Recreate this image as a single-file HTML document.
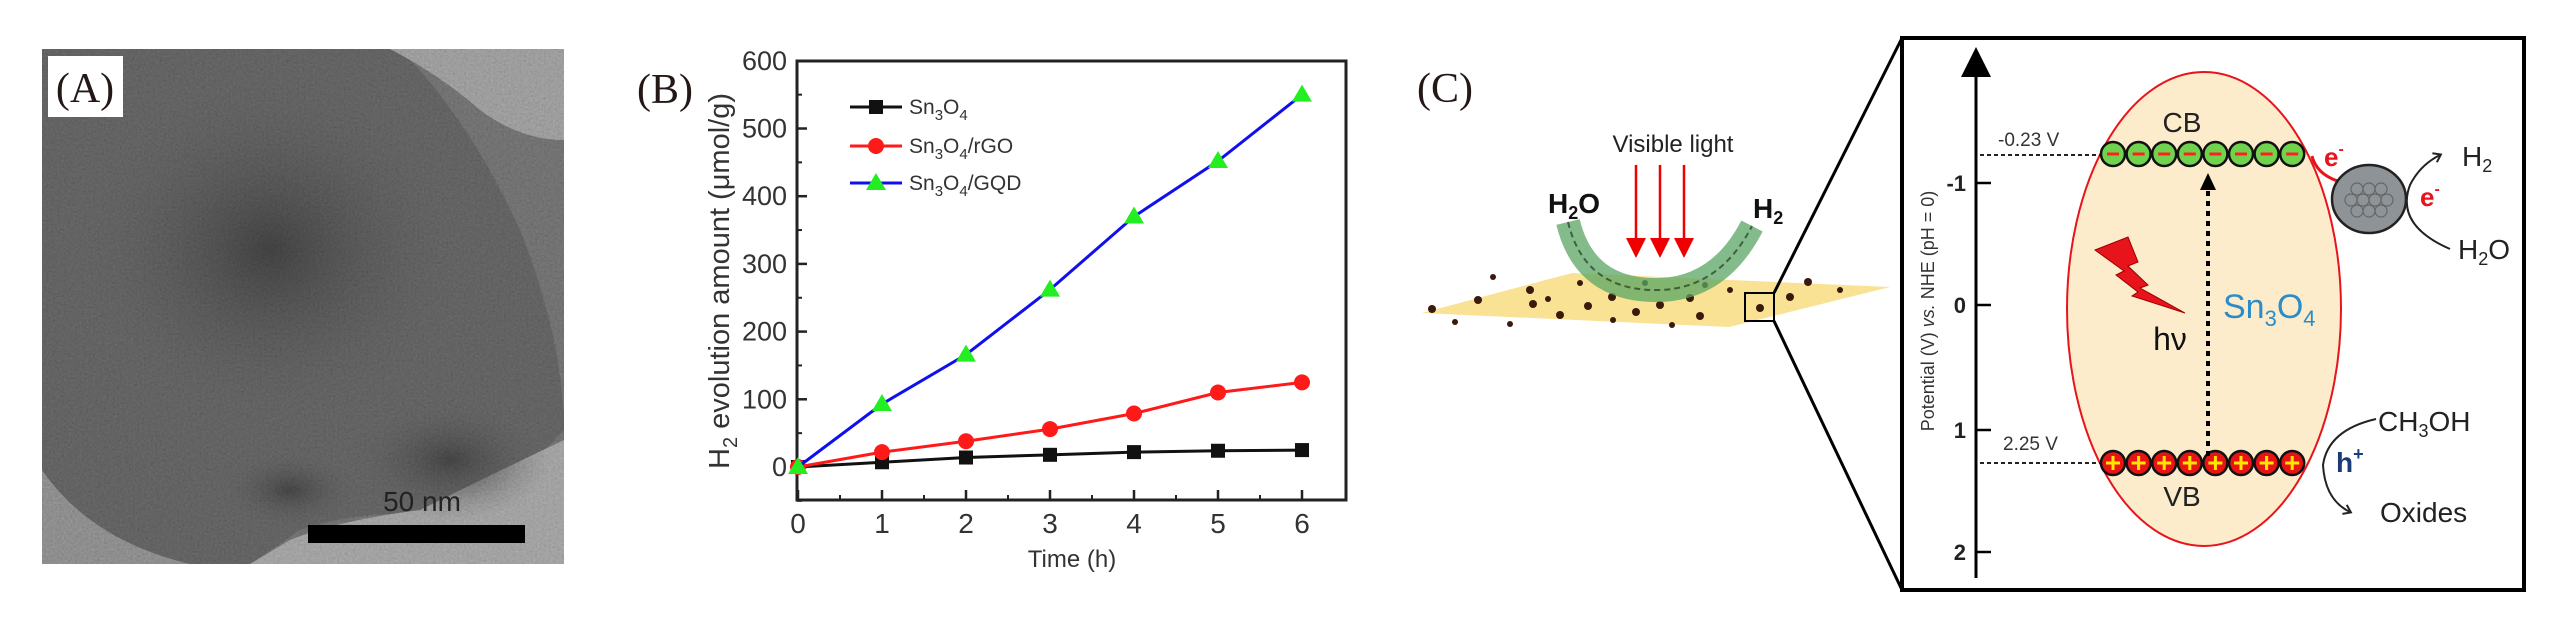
<!DOCTYPE html>
<html><head><meta charset="utf-8"><style>
html,body{margin:0;padding:0;background:#fff;width:2567px;height:630px;overflow:hidden}
svg{display:block}
text{font-family:"Liberation Sans",Arial,sans-serif}
.serif{font-family:"Liberation Serif","Times New Roman",serif}
</style></head><body>
<svg id="fig" width="2567" height="630" viewBox="0 0 2567 630" xmlns="http://www.w3.org/2000/svg">
<defs>
<filter id="noise" x="0" y="0" width="100%" height="100%">
<feTurbulence type="fractalNoise" baseFrequency="0.45" numOctaves="2" seed="3"/>
<feColorMatrix type="matrix" values="0.33 0.33 0.33 0 0  0.33 0.33 0.33 0 0  0.33 0.33 0.33 0 0  0 0 0 0 1"/>
</filter>
<radialGradient id="darkblob" cx="0.5" cy="0.5" r="0.5"><stop offset="0" stop-color="#383838"/><stop offset="1" stop-color="#555" stop-opacity="0"/></radialGradient>
<radialGradient id="darkblob2" cx="0.5" cy="0.5" r="0.5"><stop offset="0" stop-color="#3a3a3a"/><stop offset="1" stop-color="#555" stop-opacity="0"/></radialGradient>
<marker id="arrK" markerWidth="10" markerHeight="10" refX="5" refY="5" orient="auto"><path d="M0,0 L10,5 L0,10 z" fill="#000"/></marker>
<marker id="arrR" markerWidth="8" markerHeight="8" refX="4" refY="4" orient="auto"><path d="M0,0 L8,4 L0,8 z" fill="#e00"/></marker>
<marker id="chev" markerWidth="12" markerHeight="12" refX="8" refY="6" orient="auto" markerUnits="userSpaceOnUse"><path d="M2,1 L9,6 L2,11" fill="none" stroke="#222" stroke-width="2"/></marker>
</defs>

<!-- Panel A: TEM image -->
<g>
<rect x="42" y="49" width="522" height="515" fill="#626262"/>
<path d="M42,49 H400 Q470,120 520,230 Q560,330 564,420 L564,430 Q500,500 420,515 Q360,510 300,530 L250,564 H42 Z" fill="#555"/>
<path d="M390,49 H564 V140 Q520,140 480,110 Q440,75 390,49Z" fill="#8a8a8a"/>
<path d="M564,440 Q480,480 420,510 Q340,520 290,540 L250,564 H564 Z" fill="#909090"/>
<path d="M42,470 Q90,540 190,564 H42Z" fill="#7a7a7a"/>
<ellipse cx="270" cy="250" rx="200" ry="180" fill="url(#darkblob)"/>
<ellipse cx="450" cy="460" rx="100" ry="60" fill="url(#darkblob2)"/>
<ellipse cx="290" cy="490" rx="70" ry="40" fill="url(#darkblob2)"/>
<rect x="42" y="49" width="522" height="515" filter="url(#noise)" opacity="0.35" style="mix-blend-mode:overlay"/>
<rect x="48" y="56" width="75" height="61" fill="#fff"/>
<text x="85" y="102" class="serif" font-size="42" text-anchor="middle" fill="#231815">(A)</text>
<rect x="308" y="525" width="217" height="18" fill="#000"/>
<text x="422" y="511" font-size="28" text-anchor="middle" fill="#222">50 nm</text>
</g>

<!-- Panel B -->
<text x="665" y="103" class="serif" font-size="42" text-anchor="middle" fill="#231815">(B)</text>
<g id="chart"></g>

<!-- Panel C -->
<g>
<text x="1445" y="102" class="serif" font-size="42" text-anchor="middle" fill="#231815">(C)</text>
<polygon points="1422,313 1572,273 1890,287 1729,327" fill="#f8df88" opacity="0.9"/>
<g fill="#3a1a0c">
<circle cx="1432" cy="309" r="4"/><circle cx="1478" cy="300" r="4"/><circle cx="1493" cy="277" r="3"/><circle cx="1530" cy="290" r="4"/><circle cx="1533" cy="304" r="4"/><circle cx="1548" cy="299" r="3"/><circle cx="1560" cy="315" r="4"/><circle cx="1588" cy="306" r="4"/><circle cx="1580" cy="283" r="3"/><circle cx="1612" cy="297" r="4"/><circle cx="1613" cy="320" r="3"/><circle cx="1636" cy="312" r="4"/><circle cx="1645" cy="283" r="3"/><circle cx="1660" cy="305" r="4"/><circle cx="1672" cy="325" r="3"/><circle cx="1690" cy="298" r="4"/><circle cx="1700" cy="316" r="4"/><circle cx="1705" cy="285" r="3"/><circle cx="1730" cy="290" r="3"/><circle cx="1760" cy="308" r="4"/><circle cx="1790" cy="297" r="4"/><circle cx="1808" cy="282" r="4"/><circle cx="1840" cy="290" r="3"/><circle cx="1455" cy="322" r="3"/><circle cx="1510" cy="324" r="3"/>
</g>
<path d="M1568,222 Q1585,292 1660,290 Q1720,288 1752,226" fill="none" stroke="#5aa563" stroke-width="24" opacity="0.75"/>
<path d="M1568,222 Q1585,292 1660,290 Q1720,288 1752,226" fill="none" stroke="#2d4a2d" stroke-width="2" stroke-dasharray="6,4" opacity="0.8"/>
<g stroke="#e00" stroke-width="2.5">
<line x1="1636" y1="165" x2="1636" y2="248" marker-end="url(#arrR)"/><line x1="1660" y1="165" x2="1660" y2="248" marker-end="url(#arrR)"/><line x1="1684" y1="165" x2="1684" y2="248" marker-end="url(#arrR)"/>
</g>
<text x="1673" y="152" font-size="24" text-anchor="middle" fill="#222">Visible light</text>
<text x="1548" y="213" font-size="28" font-weight="bold" fill="#111">H<tspan font-size="18" dy="6">2</tspan><tspan dy="-6">O</tspan></text>
<text x="1753" y="218" font-size="28" font-weight="bold" fill="#111">H<tspan font-size="18" dy="6">2</tspan></text>
<rect x="1745" y="293" width="29" height="28" fill="none" stroke="#000" stroke-width="2"/>
<line x1="1774" y1="293" x2="1902" y2="38" stroke="#000" stroke-width="3"/>
<line x1="1774" y1="321" x2="1902" y2="590" stroke="#000" stroke-width="3"/>
<rect x="1902" y="38" width="622" height="552" fill="#fff" stroke="#000" stroke-width="4"/>
<line x1="1976" y1="578" x2="1976" y2="62" stroke="#000" stroke-width="3" marker-end="url(#arrK)"/>
<g stroke="#000" stroke-width="2.5"><line x1="1976" y1="183" x2="1991" y2="183"/><line x1="1976" y1="305" x2="1991" y2="305"/><line x1="1976" y1="430" x2="1991" y2="430"/><line x1="1976" y1="552" x2="1991" y2="552"/></g>
<g font-size="22" font-weight="bold" text-anchor="end" fill="#222">
<text x="1966" y="191">-1</text><text x="1966" y="313">0</text><text x="1966" y="438">1</text><text x="1966" y="560">2</text></g>
<text transform="translate(1934,311) rotate(-90)" font-size="18" text-anchor="middle" fill="#333">Potential (V) <tspan font-style="italic">vs.</tspan> NHE (pH = 0)</text>
<ellipse cx="2204" cy="309" rx="137" ry="237" fill="#fdeccb" stroke="#e8141c" stroke-width="2"/>
<line x1="1980" y1="155" x2="2100" y2="155" stroke="#222" stroke-width="2" stroke-dasharray="4,3"/>
<line x1="1980" y1="463" x2="2100" y2="463" stroke="#222" stroke-width="2" stroke-dasharray="4,3"/>
<text x="1998" y="146" font-size="19" fill="#333">-0.23 V</text>
<text x="2003" y="450" font-size="19" fill="#333">2.25 V</text>
<text x="2182" y="132" font-size="28" text-anchor="middle" fill="#222">CB</text>
<text x="2182" y="506" font-size="28" text-anchor="middle" fill="#222">VB</text>
<g id="cbdots"></g>
<g id="vbdots"></g>
<line x1="2208" y1="456" x2="2208" y2="190" stroke="#000" stroke-width="4" stroke-dasharray="5,5"/>
<polygon points="2208,173 2200,190 2216,190" fill="#000"/>
<polygon points="2095,250 2128,237 2138,262 2128,266 2148,285 2140,288 2185,313 2132,296 2138,292 2116,275 2124,271" fill="#e8141c" stroke="#900" stroke-width="1"/>
<text x="2170" y="350" font-size="32" text-anchor="middle" fill="#111">hν</text>
<text x="2223" y="318" font-size="34" fill="#2a8cc8">Sn<tspan font-size="22" dy="8">3</tspan><tspan dy="-8">O</tspan><tspan font-size="22" dy="8">4</tspan></text>
<text x="2324" y="166" font-size="26" font-weight="bold" fill="#e8141c">e<tspan font-size="16" dy="-12">-</tspan></text>
<path d="M2312,156 Q2318,180 2355,185" fill="none" stroke="#e8141c" stroke-width="3" marker-end="url(#arrR)"/>
<ellipse cx="2369" cy="199" rx="37" ry="34" fill="#8d9397" stroke="#222" stroke-width="2.5"/>
<g fill="none" stroke="#666" stroke-width="1.2"><circle cx="2357" cy="189" r="6"/><circle cx="2369" cy="189" r="6"/><circle cx="2381" cy="189" r="6"/><circle cx="2351" cy="200" r="6"/><circle cx="2363" cy="200" r="6"/><circle cx="2375" cy="200" r="6"/><circle cx="2387" cy="200" r="6"/><circle cx="2357" cy="211" r="6"/><circle cx="2369" cy="211" r="6"/><circle cx="2381" cy="211" r="6"/></g>
<path d="M2450,249 Q2395,225 2410,185 Q2420,165 2440,155" fill="none" stroke="#222" stroke-width="2" marker-end="url(#chev)"/>
<text x="2462" y="166" font-size="28" fill="#222">H<tspan font-size="18" dy="6">2</tspan></text>
<text x="2420" y="206" font-size="26" font-weight="bold" fill="#e8141c">e<tspan font-size="16" dy="-12">-</tspan></text>
<text x="2458" y="259" font-size="28" fill="#222">H<tspan font-size="18" dy="6">2</tspan><tspan dy="-6">O</tspan></text>
<path d="M2376,419 Q2328,430 2323,465 Q2325,500 2350,512" fill="none" stroke="#222" stroke-width="2" marker-end="url(#chev)"/>
<text x="2378" y="431" font-size="28" fill="#222">CH<tspan font-size="18" dy="6">3</tspan><tspan dy="-6">OH</tspan></text>
<text x="2336" y="472" font-size="28" font-weight="bold" fill="#1a3a7a">h<tspan font-size="18" dy="-12">+</tspan></text>
<text x="2380" y="522" font-size="28" fill="#222">Oxides</text>
</g>

<script>
const timeH = [0,1,2,3,4,5,6];
const sn3o4 = [0,7,14,18,22,24,25];
const sn3o4rGO = [0,22,38,56,79,110,125];
const sn3o4GQD = [0,93,166,262,370,452,550];
const xTicks = [0,1,2,3,4,5,6];
const yTicks = [0,100,200,300,400,500,600];

const NS='http://www.w3.org/2000/svg';
const g=document.getElementById('chart');
const X0=798, XS=84, Y0=467, YS=0.677;
function xs(v){return X0+v*XS;}
function ys(v){return Y0-v*YS;}
function mk(tag,attrs,parent){const e=document.createElementNS(NS,tag);for(const k in attrs)e.setAttribute(k,attrs[k]);(parent||g).appendChild(e);return e;}
// parts: [text, shift] where shift = 0 normal, 1 subscript
function rich(textEl,parts,subSize){
  let cur=0;
  parts.forEach(p=>{
    const ts=document.createElementNS(NS,'tspan');
    const target=p[1]?1:0;
    const d=(target-cur)*(subSize*0.4);
    if(d) ts.setAttribute('dy',d);
    if(p[1]) ts.setAttribute('font-size',subSize);
    ts.textContent=p[0];
    textEl.appendChild(ts);
    cur=target;
  });
}

const frame=mk('rect',{x:797,y:61,width:549,height:439,fill:'none',stroke:'#222','stroke-width':3});



xTicks.forEach(t=>{
  mk('line',{x1:xs(t),y1:500,x2:xs(t),y2:490,stroke:'#222','stroke-width':2.5});
  if(t<6) mk('line',{x1:xs(t+0.5),y1:500,x2:xs(t+0.5),y2:495,stroke:'#222','stroke-width':2});
  const tl=mk('text',{x:xs(t),y:533,'font-size':28,'text-anchor':'middle',fill:'#333'});
  tl.textContent=t;
  
  
});
yTicks.forEach(t=>{
  mk('line',{x1:797,y1:ys(t),x2:807,y2:ys(t),stroke:'#222','stroke-width':2.5});
  mk('line',{x1:797,y1:ys(t-50),x2:802,y2:ys(t-50),stroke:'#222','stroke-width':2});
  const tl=mk('text',{x:787,y:ys(t)+9,'font-size':27,'text-anchor':'end',fill:'#333'});
  tl.textContent=t;
  
  
});
const xt=mk('text',{x:1072,y:567,'font-size':24,'text-anchor':'middle',fill:'#333'});
xt.textContent='Time (h)';


const yt=mk('text',{transform:'translate(729,281) rotate(-90)','font-size':29,'text-anchor':'middle',fill:'#333'});
rich(yt,[['H',0],['2',1],[' evolution amount (μmol/g)',0]],20);



function marker(type,x,y,color,parent){
  if(type==='sq') return mk('rect',{x:x-7,y:y-7,width:14,height:14,fill:color},parent);
  if(type==='ci') return mk('circle',{cx:x,cy:y,r:8,fill:color},parent);
  return mk('polygon',{points:`${x},${y-10} ${x-10},${y+7} ${x+10},${y+7}`,fill:color},parent);
}
const series=[
  {vals:sn3o4,line:'#111',mc:'#111',m:'sq',name:'series-sn3o4'},
  {vals:sn3o4rGO,line:'#ff1a1a',mc:'#ff1a1a',m:'ci',name:'series-sn3o4-rgo'},
  {vals:sn3o4GQD,line:'#1010ee',mc:'#22ee22',m:'tr',name:'series-sn3o4-gqd'}
];
series.forEach(s=>{
  const sg=mk('g',{});
  
  
  mk('polyline',{points:timeH.map((t,i)=>xs(t)+','+ys(s.vals[i])).join(' '),fill:'none',stroke:s.line,'stroke-width':3},sg);
  timeH.forEach((t,i)=>{
    const p=marker(s.m,xs(t),ys(s.vals[i]),s.mc,sg);
    
    
  });
});
const legendSuffix=['','/rGO','/GQD'];
const legY=[107,146,183];
series.forEach((s,i)=>{
  const lg=mk('g',{});
  
  
  mk('line',{x1:850,y1:legY[i],x2:902,y2:legY[i],stroke:s.line,'stroke-width':3},lg);
  marker(s.m,876,legY[i],s.mc,lg);
  const t=mk('text',{x:909,y:legY[i]+7,'font-size':21,fill:'#333'},lg);
  const parts=[['Sn',0],['3',1],['O',0],['4',1]];
  if(legendSuffix[i]) parts.push([legendSuffix[i],0]);
  rich(t,parts,15);
});

function dots(id,y,fill,sym,symColor){
  const p=document.getElementById(id);
  for(let i=0;i<8;i++){
    const cx=2113+i*25.6;
    mk('circle',{cx:cx,cy:y,r:12,fill:fill,stroke:'#111','stroke-width':2.5},p);
    if(sym==='-') mk('line',{x1:cx-6,y1:y,x2:cx+6,y2:y,stroke:symColor,'stroke-width':3},p);
    else {mk('line',{x1:cx-7,y1:y,x2:cx+7,y2:y,stroke:symColor,'stroke-width':3},p);mk('line',{x1:cx,y1:y-7,x2:cx,y2:y+7,stroke:symColor,'stroke-width':3},p);}
  }
}
dots('cbdots',154,'#6fd34e','-','#ff2020');
dots('vbdots',463,'#e81414','+','#ffe600');
</script>
</svg>
</body></html>
